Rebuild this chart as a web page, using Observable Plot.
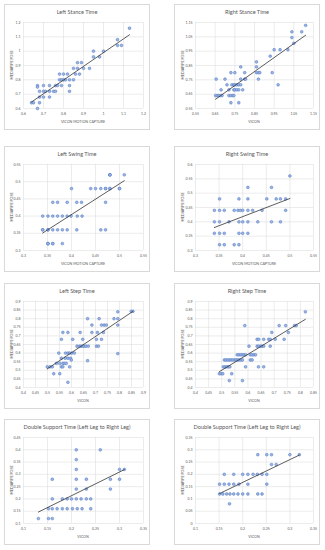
<!DOCTYPE html>
<html>
<head>
<meta charset="utf-8">
<script src="https://cdn.jsdelivr.net/npm/d3@7"></script>
<script src="https://cdn.jsdelivr.net/npm/@observablehq/plot@0.6"></script>
<style>
  html, body { margin: 0; padding: 0; background: #fff; }
  #root { position: relative; width: 325px; height: 550px; font-family: Lato, "Open Sans", sans-serif; }
  .panel { position: absolute; width: 146px; height: 126px; border: 1px solid #d9d9d9; box-sizing: border-box; background: #fff; }
  .panel svg { position: absolute; left: 0; top: 0; }
  .ttl { position: absolute; left: 0; width: 100%; top: 3px; text-align: center; font-size: 5.6px; color: #595959; white-space: nowrap; }
  .xl { position: absolute; top: 114px; text-align: center; font-size: 3.6px; color: #595959; white-space: nowrap; transform: translateX(-50%); }
  .yl { position: absolute; font-size: 3.6px; color: #595959; white-space: nowrap; transform: translate(-50%, -50%) rotate(-90deg); }
</style>
</head>
<body>
<div id="root"></div>
<script>
// ---- Panel titles and axis titles ----
const titles = ["Left Stance Time", "Right Stance Time", "Left Swing Time", "Right Swing Time",
  "Left Step Time", "Right Step Time", "Double Support Time (Left Leg to Right Leg)", "Double Support Time (Left Leg to Right Leg)"];
const xTitles = ["VICON MOTION CAPTURE", "VICON", "VICON MOTION CAPTURE", "VICON MOTION CAPTURE",
  "VICON", "VICON", "VICON", "VICON"];
const yTitle = "MEDIAPIPE POSE";

// ---- Tick labels ----
const lstXTicks = [0.6, 0.7, 0.8, 0.9, 1, 1.1, 1.2];
const lstYTicks = [0.6, 0.7, 0.8, 0.9, 1, 1.1, 1.2];
const rstXTicks = [0.55, 0.65, 0.75, 0.85, 0.95, 1.05, 1.15];
const rstYTicks = [0.55, 0.65, 0.75, 0.85, 0.95, 1.05, 1.15];
const lswXTicks = [0.3, 0.35, 0.4, 0.45, 0.5, 0.55];
const lswYTicks = [0.3, 0.35, 0.4, 0.45, 0.5, 0.55];
const rswXTicks = [0.3, 0.35, 0.4, 0.45, 0.5, 0.55];
const rswYTicks = [0.3, 0.35, 0.4, 0.45, 0.5, 0.55, 0.6];
const lspXTicks = [0.4, 0.45, 0.5, 0.55, 0.6, 0.65, 0.7, 0.75, 0.8, 0.85, 0.9];
const lspYTicks = [0.4, 0.45, 0.5, 0.55, 0.6, 0.65, 0.7, 0.75, 0.8, 0.85, 0.9];
const rspXTicks = [0.4, 0.45, 0.5, 0.55, 0.6, 0.65, 0.7, 0.75, 0.8, 0.85];
const rspYTicks = [0.4, 0.45, 0.5, 0.55, 0.6, 0.65, 0.7, 0.75, 0.8, 0.85, 0.9];
const dslXTicks = [0.1, 0.15, 0.2, 0.25, 0.3, 0.35];
const dslYTicks = [0.1, 0.15, 0.2, 0.25, 0.3, 0.35, 0.4, 0.45];
const dsrXTicks = [0.1, 0.15, 0.2, 0.25, 0.3, 0.35];
const dsrYTicks = [0, 0.05, 0.1, 0.15, 0.2, 0.25, 0.3, 0.35];

// ---- Series values (Vicon x, MediaPipe y) ----
const lstX = [0.64,0.65,0.67,0.68,0.67,0.67,0.68,0.68,0.70,0.70,0.70,0.71,0.73,0.73,0.73,0.75,0.76,0.76,0.77,0.78,0.79,0.78,0.80,0.80,0.81,0.79,0.82,0.83,0.83,0.83,0.85,0.85,0.86,0.87,0.87,0.88,0.89,0.90,0.93,0.95,0.95,0.98,1.00,1.07,1.07,1.09,1.13];
const lstY = [0.64,0.64,0.60,0.64,0.76,0.75,0.72,0.68,0.76,0.72,0.68,0.72,0.76,0.72,0.68,0.72,0.72,0.76,0.76,0.80,0.80,0.84,0.84,0.80,0.80,0.76,0.84,0.80,0.76,0.72,0.80,0.88,0.84,0.88,0.92,0.84,0.92,0.88,0.88,1.00,0.96,0.96,1.00,1.04,1.08,1.04,1.16];

const rstX = [0.652,0.66,0.668,0.676,0.685,0.655,0.68,0.70,0.71,0.72,0.72,0.73,0.74,0.745,0.73,0.73,0.735,0.745,0.75,0.76,0.77,0.78,0.745,0.75,0.76,0.77,0.75,0.77,0.78,0.78,0.79,0.80,0.80,0.805,0.86,0.86,0.86,0.87,0.877,0.87,0.93,0.94,0.95,0.97,0.98,1.02,1.04,1.04,1.05,1.09,1.11];
const rstY = [0.64,0.64,0.64,0.64,0.64,0.755,0.68,0.755,0.715,0.68,0.64,0.64,0.64,0.64,0.59,0.80,0.715,0.715,0.715,0.715,0.715,0.715,0.68,0.68,0.68,0.68,0.80,0.59,0.84,0.755,0.68,0.80,0.755,0.755,0.875,0.84,0.80,0.80,0.80,0.755,0.915,0.80,0.96,0.715,0.96,0.96,1.045,1.085,1.005,1.085,1.13];

// (values on a 0.04 s grid; several points overlap exactly, estimated from the trendline)
const lswX = [0.34,0.351,0.361,0.371,0.381,0.391,0.399,0.412,0.422, 0.34,0.34,0.351,0.351,0.361,0.371,0.381,0.391,0.411,0.461,0.471, 0.351,0.351,0.351,0.361,0.361,0.381, 0.361,0.371,0.391,0.411,0.421,0.471, 0.40, 0.44,0.45,0.461,0.471,0.471,0.48,0.48,0.50,0.50, 0.48,0.48,0.48, 0.51];
const lswY = [0.40,0.40,0.40,0.40,0.40,0.40,0.40,0.40,0.40, 0.36,0.36,0.36,0.36,0.36,0.36,0.36,0.36,0.36,0.36,0.36, 0.32,0.32,0.32,0.32,0.32,0.32, 0.44,0.44,0.44,0.44,0.44,0.44, 0.48, 0.48,0.48,0.48,0.48,0.48,0.48,0.48,0.48,0.48, 0.52,0.52,0.52, 0.52];

const rswX = [0.34,0.351,0.361,0.382,0.39,0.395,0.40,0.411,0.421,0.441,0.491, 0.34,0.351,0.371,0.392,0.40,0.411,0.432,0.461,0.48, 0.34,0.351,0.361,0.392,0.40,0.411, 0.351,0.361,0.382,0.392, 0.351,0.392,0.411,0.451,0.471,0.48,0.491, 0.411,0.461,0.50];
const rswY = [0.44,0.44,0.44,0.44,0.44,0.44,0.44,0.44,0.44,0.44,0.44, 0.40,0.40,0.40,0.40,0.40,0.40,0.40,0.40,0.40, 0.36,0.36,0.36,0.36,0.36,0.36, 0.32,0.32,0.32,0.32, 0.48,0.48,0.48,0.48,0.48,0.48,0.48, 0.52,0.52,0.56];

const lspX = [0.499,0.51,0.52,0.558,0.564, 0.526,0.551, 0.585, 0.537,0.551,0.564,0.571,0.578, 0.547, 0.558,0.574,0.585,0.596, 0.599, 0.558,0.564,0.585, 0.575,0.585,0.592,0.601,0.612, 0.592, 0.605, 0.623,0.633,0.64,0.647,0.653,0.66,0.67, 0.636,0.647,0.667,0.667,0.685,0.685,0.704,0.712,0.704,0.725,0.708,0.715,0.725,0.736,0.745,0.733,0.777,0.793,0.793,0.793,0.793,0.849,0.856];
const lspY = [0.52,0.52,0.52,0.52,0.52, 0.48,0.48, 0.43, 0.54,0.54,0.54,0.54,0.54, 0.60, 0.57,0.57,0.57,0.57, 0.56, 0.68,0.72,0.72, 0.60,0.60,0.60,0.60,0.60, 0.52, 0.68, 0.64,0.64,0.64,0.64,0.64,0.64,0.64, 0.72,0.68,0.556,0.80,0.763,0.72,0.64,0.64,0.68,0.68,0.72,0.80,0.763,0.763,0.763,0.72,0.80,0.80,0.763,0.84,0.597,0.843,0.843];

const rspX = [0.491,0.498,0.504,0.538, 0.529,0.579, 0.506,0.513,0.519,0.525,0.531,0.591,0.64,0.66, 0.51,0.516,0.523,0.529,0.535,0.541,0.548,0.554,0.56,0.566,0.573,0.579,0.609,0.616, 0.559,0.566,0.573,0.579,0.585,0.591,0.609,0.616,0.623,0.629, 0.604, 0.635,0.641,0.648,0.654,0.66,0.685, 0.635,0.641,0.66,0.679,0.685,0.704,0.738, 0.691, 0.588,0.719,0.744,0.754,0.778,0.784,0.819];
const rspY = [0.48,0.48,0.48,0.48, 0.44,0.44, 0.52,0.52,0.52,0.52,0.52,0.52,0.52,0.52, 0.56,0.56,0.56,0.56,0.56,0.56,0.56,0.56,0.56,0.56,0.56,0.56,0.56,0.56, 0.59,0.59,0.59,0.59,0.59,0.59,0.59,0.59,0.59,0.59, 0.64, 0.64,0.64,0.64,0.64,0.64,0.64, 0.68,0.68,0.68,0.68,0.68,0.68,0.68, 0.72, 0.76,0.76,0.76,0.72,0.76,0.76,0.84];

const dslX = [0.131,0.152,0.16, 0.152,0.16,0.17,0.181,0.191,0.202,0.212,0.222,0.24, 0.16,0.181,0.191,0.20,0.21,0.22,0.231,0.24, 0.16, 0.21,0.21,0.21,0.21,0.21, 0.231,0.231, 0.26, 0.281,0.281, 0.30,0.30,0.31];
const dslY = [0.12,0.12,0.12, 0.16,0.16,0.16,0.16,0.16,0.16,0.16,0.16,0.16, 0.20,0.20,0.20,0.20,0.20,0.20,0.20,0.20, 0.28, 0.24,0.28,0.32,0.36,0.40, 0.24,0.28, 0.40, 0.24,0.28, 0.28,0.32,0.32];

const dsrX = [0.151,0.158,0.166,0.173,0.181,0.19,0.20,0.211,0.232,0.241, 0.172, 0.151,0.161,0.171,0.181,0.192,0.211,0.251, 0.161,0.181,0.20,0.211,0.222,0.231,0.241,0.251, 0.261,0.271, 0.232,0.251,0.261,0.30,0.32];
const dsrY = [0.12,0.12,0.12,0.12,0.12,0.12,0.12,0.12,0.12,0.12, 0.08, 0.16,0.16,0.16,0.16,0.16,0.16,0.16, 0.20,0.20,0.20,0.20,0.20,0.20,0.20,0.20, 0.24,0.24, 0.28,0.28,0.28,0.28,0.28];

// ---- Build panels ----
const series = [
  [lstX, lstY, lstXTicks, lstYTicks],
  [rstX, rstY, rstXTicks, rstYTicks],
  [lswX, lswY, lswXTicks, lswYTicks],
  [rswX, rswY, rswXTicks, rswYTicks],
  [lspX, lspY, lspXTicks, lspYTicks],
  [rspX, rspY, rspXTicks, rspYTicks],
  [dslX, dslY, dslXTicks, dslYTicks],
  [dsrX, dsrY, dsrXTicks, dsrYTicks]
];
const colLeft = [4, 174];
const rowTop = [4, 146, 283, 419];
const W = 146, H = 126;
const fmt = d3.format("~g");
const root = document.getElementById("root");

series.forEach(([xs, ys, xt, yt], i) => {
  const col = i % 2, row = Math.floor(i / 2);
  const ml = col === 0 ? 18 : 20, mr = 6, mt = 17, mb = 21;
  const data = xs.map((x, j) => ({x, y: ys[j]}));
  const div = document.createElement("div");
  div.className = "panel";
  div.style.left = colLeft[col] + "px";
  div.style.top = rowTop[row] + "px";
  const chart = Plot.plot({
    width: W - 2, height: H - 2,
    marginLeft: ml, marginRight: mr, marginTop: mt, marginBottom: mb,
    style: {fontFamily: "Lato, sans-serif", fontSize: "3.5px", color: "#595959", background: "transparent"},
    x: {domain: [xt[0], xt[xt.length - 1]], ticks: xt, tickSize: 0, tickPadding: 4, tickFormat: fmt, label: null},
    y: {domain: [yt[0], yt[yt.length - 1]], ticks: yt, tickSize: 0, tickPadding: 3, tickFormat: fmt, label: null},
    marks: [
      Plot.gridX(xt, {stroke: "#d9d9d9", strokeOpacity: 1, strokeWidth: 0.5}),
      Plot.gridY(yt, {stroke: "#d9d9d9", strokeOpacity: 1, strokeWidth: 0.5}),
      Plot.dot(data, {x: "x", y: "y", r: 1.4, fill: "#9db3e0", fillOpacity: 1, stroke: "#4f78c4", strokeWidth: 0.5}),
      Plot.linearRegressionY(data, {x: "x", y: "y", ci: 0, stroke: "#333333", strokeWidth: 0.8})
    ]
  });
  div.appendChild(chart);
  const t = document.createElement("div");
  t.className = "ttl"; t.textContent = titles[i];
  div.appendChild(t);
  const xl = document.createElement("div");
  xl.className = "xl"; xl.textContent = xTitles[i];
  xl.style.left = (ml + (W - 2 - ml - mr) / 2) + "px";
  div.appendChild(xl);
  const yl = document.createElement("div");
  yl.className = "yl"; yl.textContent = yTitle;
  yl.style.left = (col === 0 ? 6 : 7) + "px";
  yl.style.top = (mt + (H - 2 - mt - mb) / 2) + "px";
  div.appendChild(yl);
  root.appendChild(div);
});
</script>
</body>
</html>
